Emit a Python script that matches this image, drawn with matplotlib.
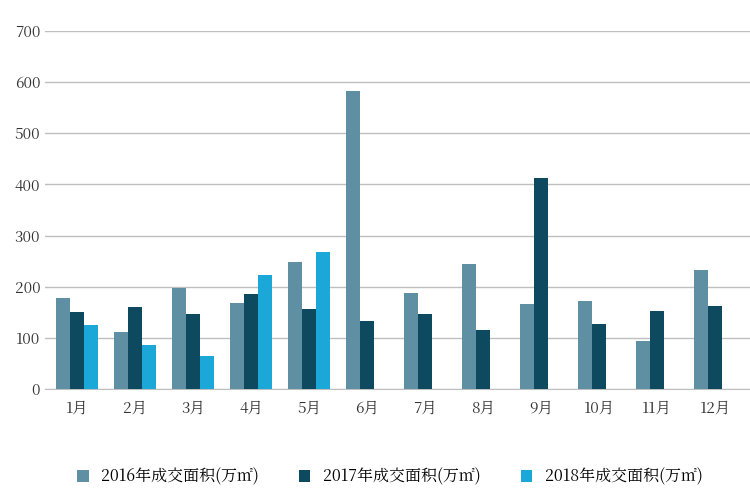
import matplotlib
matplotlib.use("Agg")
import matplotlib.pyplot as plt
from matplotlib import font_manager as fm
import numpy as np

cjk = [f.name for f in fm.fontManager.ttflist if 'CJK' in f.name]
fam = 'Noto Sans CJK SC' if 'Noto Sans CJK SC' in cjk else (cjk[0] if cjk else 'DejaVu Sans')
plt.rcParams['font.family'] = 'sans-serif'
plt.rcParams['font.sans-serif'] = [fam, 'DejaVu Sans']

months = ["1月","2月","3月","4月","5月","6月","7月","8月","9月","10月","11月","12月"]
s2016 = [178,112,198,168,248,582,188,245,166,172,93,232]
s2017 = [150,160,147,185,157,132,147,115,413,128,153,162]
s2018 = [125,87,65,222,267]
names = ["2016年成交面积(万㎡)","2017年成交面积(万㎡)","2018年成交面积(万㎡)"]
colors = ["#5e8fa2","#0e4a5f","#1ba8d8"]

fig = plt.figure(figsize=(7.5,5), dpi=100)
ax = fig.add_axes([0.06,0.222,0.94,0.716])
x = np.arange(len(months))
w = 0.24
ax.bar(x-w, s2016, w, color=colors[0], label=names[0], zorder=3)
ax.bar(x, s2017, w, color=colors[1], label=names[1], zorder=3)
ax.bar(np.arange(len(s2018))+w, s2018, w, color=colors[2], label=names[2], zorder=3)
ax.set_ylim(0,700)
ax.set_yticks(range(0,701,100))
ax.set_xlim(-0.55, 11.6)
ax.set_xticks(x)
ax.set_xticklabels(months)
ax.grid(axis='y', color='#bfbfbf', lw=1, zorder=0)
for s in ['top','right','left']:
    ax.spines[s].set_visible(False)
ax.spines['bottom'].set_color('#bfbfbf')
ax.tick_params(length=0, labelsize=11, colors='#333333')
ax.tick_params(axis='x', pad=8)
fig.legend(loc='lower center', ncol=3, frameon=False, fontsize=11.5,
           bbox_to_anchor=(0.52,0.0), handlelength=0.7, handleheight=0.7, columnspacing=2.5)
fig.savefig("out.png", dpi=100)
